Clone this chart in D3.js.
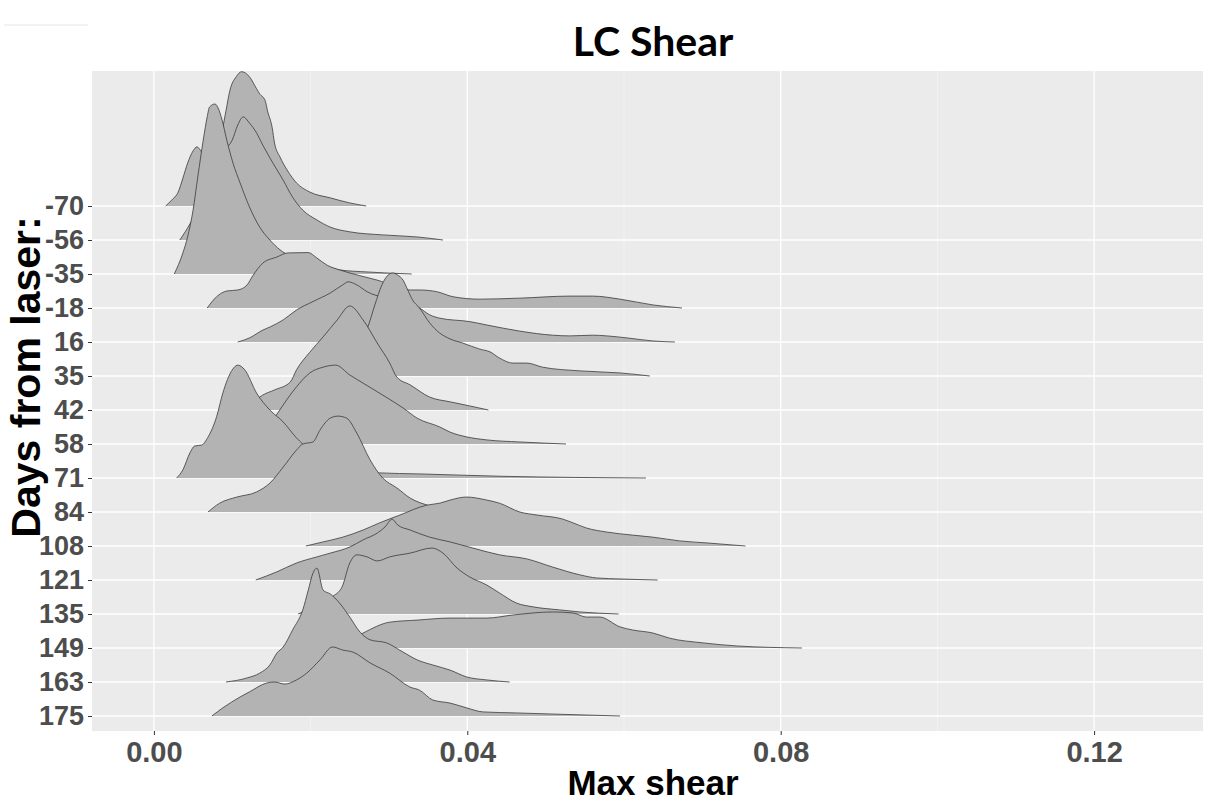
<!DOCTYPE html>
<html>
<head>
<meta charset="utf-8">
<script src="https://cdn.jsdelivr.net/npm/d3@7"></script>
<style>
  html, body { margin: 0; padding: 0; background: #ffffff; }
  svg { display: block; }
</style>
</head>
<body>
<svg id="chart" width="1215" height="805"></svg>
<script>
// Days from laser, top row first
const days = ["-70", "-56", "-35", "-18", "16", "35", "42", "58", "71", "84", "108", "121", "135", "149", "163", "175"];

// Ridge outlines per day: [max shear, scaled density height (1 = one row)]
const ridge_m70 = [[0.0015,0],[0.0023,0.18],[0.0031,0.41],[0.0037,0.82],[0.0043,1.26],[0.0050,1.62],[0.0055,1.74],[0.0060,1.62],[0.0069,1.30],[0.0078,1.45],[0.0087,2.2],[0.0092,2.8],[0.0097,3.4],[0.0105,3.8],[0.0112,3.95],[0.0122,3.8],[0.0131,3.45],[0.0135,3.3],[0.0142,3.1],[0.0145,2.8],[0.0151,2.3],[0.0154,1.85],[0.0161,1.44],[0.0170,1.06],[0.0182,0.68],[0.0199,0.41],[0.0225,0.24],[0.0250,0.09],[0.0271,0]];
const ridge_m56 = [[0.0033,0],[0.0040,0.24],[0.0052,0.74],[0.0065,1.47],[0.0078,2.06],[0.0091,2.65],[0.0100,2.94],[0.0107,3.38],[0.0114,3.62],[0.0122,3.44],[0.0131,3.15],[0.0139,2.79],[0.0152,2.26],[0.0165,1.76],[0.0177,1.26],[0.0190,0.88],[0.0208,0.59],[0.0225,0.38],[0.0250,0.24],[0.0292,0.15],[0.0336,0.09],[0.0369,0]];
const ridge_m35 = [[0.0026,0],[0.0037,0.62],[0.0043,1.09],[0.0050,1.88],[0.0056,2.85],[0.0063,3.94],[0.0068,4.62],[0.0071,4.91],[0.0078,5.0],[0.0082,4.88],[0.0087,4.53],[0.0093,3.94],[0.0101,3.26],[0.0110,2.68],[0.0122,1.97],[0.0135,1.38],[0.0148,1.0],[0.0161,0.71],[0.0174,0.53],[0.0190,0.41],[0.0216,0.26],[0.0237,0.12],[0.0272,0.06],[0.0329,0]];
const ridge_m18 = [[0.0068,0],[0.0080,0.33],[0.0093,0.5],[0.0107,0.53],[0.0119,0.68],[0.0126,0.94],[0.0139,1.32],[0.0157,1.5],[0.0171,1.62],[0.0197,1.63],[0.0208,1.47],[0.0221,1.26],[0.0237,1.12],[0.0263,0.95],[0.0285,0.82],[0.0327,0.53],[0.0339,0.53],[0.0361,0.48],[0.0382,0.33],[0.0416,0.26],[0.0467,0.29],[0.0531,0.35],[0.0560,0.35],[0.0595,0.26],[0.0637,0.09],[0.0674,0]];
const ridge_16 = [[0.0107,0],[0.0122,0.12],[0.0139,0.35],[0.0148,0.44],[0.0165,0.65],[0.0182,0.94],[0.0203,1.19],[0.0225,1.44],[0.0241,1.68],[0.0248,1.77],[0.0259,1.68],[0.0272,1.48],[0.0295,1.3],[0.0320,1.2],[0.0339,1.0],[0.0352,0.8],[0.0365,0.7],[0.0403,0.6],[0.0425,0.5],[0.0467,0.32],[0.0509,0.2],[0.0531,0.18],[0.0560,0.2],[0.0578,0.18],[0.0604,0.12],[0.0637,0.03],[0.0665,0]];
const ridge_35 = [[0.0186,0],[0.0225,0.32],[0.0250,0.76],[0.0273,1.44],[0.0282,2.09],[0.0291,2.68],[0.0299,2.97],[0.0305,3.03],[0.0311,2.97],[0.0318,2.82],[0.0324,2.53],[0.0330,2.24],[0.0339,2.0],[0.0352,1.56],[0.0365,1.26],[0.0378,1.09],[0.0394,0.97],[0.0416,0.79],[0.0429,0.71],[0.0441,0.53],[0.0458,0.38],[0.0476,0.38],[0.0496,0.26],[0.0544,0.15],[0.0595,0.09],[0.0633,0]];
const ridge_42 = [[0.0116,0],[0.0139,0.44],[0.0154,0.59],[0.0174,0.82],[0.0182,1.18],[0.0199,1.7],[0.0216,2.15],[0.0234,2.65],[0.0250,3.06],[0.0267,2.65],[0.0285,1.97],[0.0301,1.38],[0.0310,0.97],[0.0327,0.74],[0.0352,0.38],[0.0378,0.24],[0.0403,0.12],[0.0427,0]];
const ridge_58 = [[0.0122,0],[0.0142,0.35],[0.0158,0.91],[0.0182,1.68],[0.0199,2.09],[0.0216,2.26],[0.0232,2.32],[0.0250,2.03],[0.0267,1.79],[0.0292,1.44],[0.0318,1.06],[0.0336,0.76],[0.0365,0.5],[0.0378,0.35],[0.0399,0.21],[0.0425,0.12],[0.0467,0.06],[0.0526,0]];
const ridge_71 = [[0.0029,0],[0.0037,0.24],[0.0046,0.74],[0.0052,0.94],[0.0061,0.97],[0.0069,1.2],[0.0080,1.8],[0.0088,2.5],[0.0100,3.18],[0.0107,3.32],[0.0116,3.18],[0.0131,2.5],[0.0148,2.0],[0.0165,1.65],[0.0182,1.18],[0.0190,1.0],[0.0212,0.68],[0.0237,0.38],[0.0263,0.24],[0.0288,0.15],[0.0339,0.12],[0.0445,0.05],[0.0628,0]];
const ridge_84 = [[0.0069,0],[0.0084,0.26],[0.0106,0.44],[0.0131,0.59],[0.0148,0.85],[0.0165,1.32],[0.0182,1.82],[0.0190,2.0],[0.0203,2.06],[0.0212,2.41],[0.0225,2.76],[0.0235,2.82],[0.0246,2.76],[0.0259,2.32],[0.0276,1.53],[0.0292,1.0],[0.0310,0.71],[0.0327,0.41],[0.0352,0.18],[0.0371,0.06],[0.0390,0]];
const ridge_108 = [[0.0194,0],[0.0216,0.12],[0.0241,0.26],[0.0267,0.47],[0.0288,0.68],[0.0314,0.91],[0.0348,1.2],[0.0365,1.26],[0.0378,1.35],[0.0399,1.44],[0.0425,1.35],[0.0441,1.26],[0.0467,1.0],[0.0489,0.91],[0.0522,0.79],[0.0535,0.68],[0.0552,0.53],[0.0578,0.41],[0.0611,0.32],[0.0637,0.26],[0.0671,0.15],[0.0706,0.09],[0.0755,0]];
const ridge_121 = [[0.0130,0],[0.0157,0.24],[0.0182,0.5],[0.0208,0.68],[0.0225,0.79],[0.0250,0.97],[0.0267,1.18],[0.0285,1.38],[0.0295,1.56],[0.0304,1.79],[0.0311,1.62],[0.0327,1.47],[0.0352,1.26],[0.0378,1.12],[0.0407,0.94],[0.0441,0.74],[0.0476,0.62],[0.0509,0.38],[0.0544,0.15],[0.0565,0.06],[0.0595,0.03],[0.0643,0]];
const ridge_135 = [[0.0184,0],[0.0199,0.15],[0.0214,0.3],[0.0227,0.5],[0.0240,0.79],[0.0250,1.5],[0.0259,1.74],[0.0272,1.68],[0.0285,1.56],[0.0301,1.68],[0.0327,1.79],[0.0355,1.94],[0.0369,1.79],[0.0387,1.35],[0.0403,1.09],[0.0425,0.85],[0.0441,0.62],[0.0463,0.32],[0.0484,0.21],[0.0518,0.12],[0.0544,0.06],[0.0593,0]];
const ridge_149 = [[0.0225,0],[0.0244,0.15],[0.0267,0.44],[0.0301,0.76],[0.0336,0.82],[0.0378,0.88],[0.0425,0.88],[0.0458,0.97],[0.0509,1.06],[0.0535,1.03],[0.0552,0.91],[0.0569,0.91],[0.0595,0.62],[0.0611,0.53],[0.0637,0.44],[0.0658,0.29],[0.0701,0.15],[0.0744,0.06],[0.0827,0]];
const ridge_163 = [[0.0092,0],[0.0119,0.12],[0.0135,0.26],[0.0148,0.5],[0.0157,0.85],[0.0165,1.03],[0.0177,1.53],[0.0190,2.12],[0.0197,2.7],[0.0203,3.2],[0.0208,3.35],[0.0216,2.7],[0.0225,2.59],[0.0237,2.32],[0.0250,1.91],[0.0263,1.47],[0.0276,1.24],[0.0297,1.15],[0.0318,0.88],[0.0336,0.65],[0.0356,0.5],[0.0378,0.35],[0.0399,0.15],[0.0425,0.06],[0.0454,0]];
const ridge_175 = [[0.0074,0],[0.0088,0.24],[0.0110,0.56],[0.0122,0.71],[0.0144,0.97],[0.0154,1.0],[0.0167,0.94],[0.0182,1.06],[0.0195,1.26],[0.0212,1.65],[0.0228,2.03],[0.0241,1.94],[0.0254,1.88],[0.0276,1.56],[0.0301,1.26],[0.0327,0.85],[0.0339,0.76],[0.0356,0.47],[0.0378,0.38],[0.0399,0.24],[0.0420,0.12],[0.0463,0.09],[0.0505,0.06],[0.0595,0]];

const ridgeList = [ridge_m70, ridge_m56, ridge_m35, ridge_m18, ridge_16, ridge_35, ridge_42, ridge_58,
                   ridge_71, ridge_84, ridge_108, ridge_121, ridge_135, ridge_149, ridge_163, ridge_175];

const xMajorTicks = [0, 0.04, 0.08, 0.12];
const xMinorTicks = [0.02, 0.06, 0.10];

const titleText = "LC Shear";
const xTitleText = "Max shear";
const yTitleText = "Days from laser:";

// ---- layout ----
const panel = { left: 92, right: 1203, top: 71, bottom: 731 };
const svg = d3.select("#chart");

const x = d3.scaleLinear().domain([-0.0079, 0.1339]).range([panel.left, panel.right]);
const y = d3.scalePoint().domain(days).range([panel.top + 135, panel.bottom - 15]);
const h = d3.scaleLinear().domain([0, 1]).range([0, y.step()]);

// panel background
svg.append("rect")
  .attr("x", panel.left).attr("y", panel.top)
  .attr("width", panel.right - panel.left).attr("height", panel.bottom - panel.top)
  .attr("fill", "#ebebeb");

// grid
const grid = svg.append("g");
grid.selectAll("line.minor").data(xMinorTicks).join("line")
  .attr("x1", d => x(d)).attr("x2", d => x(d))
  .attr("y1", panel.top).attr("y2", panel.bottom)
  .attr("stroke", "#f7f7f7").attr("stroke-width", 0.7);
grid.selectAll("line.majx").data(xMajorTicks).join("line")
  .attr("x1", d => x(d)).attr("x2", d => x(d))
  .attr("y1", panel.top).attr("y2", panel.bottom)
  .attr("stroke", "#ffffff").attr("stroke-width", 1.3);
grid.selectAll("line.majy").data(days).join("line")
  .attr("x1", panel.left).attr("x2", panel.right)
  .attr("y1", d => y(d)).attr("y2", d => y(d))
  .attr("stroke", "#ffffff").attr("stroke-width", 1.3);

// ridges, top row first so lower rows overlap it
const ridges = svg.append("g");
days.forEach((day, i) => {
  const base = y(day);
  const pts = ridgeList[i];
  const area = d3.area()
    .x(d => x(d[0])).y0(base).y1(d => base - h(d[1]))
    .curve(d3.curveMonotoneX);
  const line = d3.line()
    .x(d => x(d[0])).y(d => base - h(d[1]))
    .curve(d3.curveMonotoneX);
  ridges.append("path").attr("d", area(pts))
    .attr("fill", "#b3b3b3").attr("stroke", "none");
  ridges.append("path").attr("d", line(pts))
    .attr("fill", "none").attr("stroke", "#3a3a3a").attr("stroke-width", 0.8);
});

// axes
const tickFont = "'Liberation Sans', Arial, sans-serif";
const xAxis = d3.axisBottom(x).tickValues(xMajorTicks).tickFormat(d3.format(".2f")).tickSize(4).tickPadding(6);
const gx = svg.append("g").attr("transform", `translate(0,${panel.bottom})`).call(xAxis);
gx.select(".domain").remove();
gx.selectAll(".tick line").attr("stroke", "#333333").attr("stroke-width", 1);
gx.selectAll(".tick text")
  .attr("fill", "#4d4d4d")
  .style("font-family", tickFont)
  .style("font-weight", "bold").style("font-size", "29px");

const yAxis = d3.axisLeft(y).tickSize(4).tickPadding(4);
const gy = svg.append("g").attr("transform", `translate(${panel.left},0)`).call(yAxis);
gy.select(".domain").remove();
gy.selectAll(".tick line").attr("stroke", "#333333").attr("stroke-width", 1);
gy.selectAll(".tick text")
  .attr("fill", "#4d4d4d")
  .style("font-family", tickFont)
  .style("font-weight", "bold").style("font-size", "27px");

// titles
svg.append("text")
  .attr("x", 653).attr("y", 56)
  .attr("text-anchor", "middle")
  .style("font-family", "Lato, 'Open Sans', sans-serif")
  .style("font-weight", "bold").style("font-size", "41px")
  .attr("fill", "#000000")
  .text(titleText);

svg.append("text")
  .attr("x", 653).attr("y", 795)
  .attr("text-anchor", "middle")
  .style("font-family", tickFont)
  .style("font-weight", "bold").style("font-size", "35px")
  .attr("fill", "#000000")
  .text(xTitleText);

svg.append("text")
  .attr("transform", "translate(40,377) rotate(-90)")
  .attr("text-anchor", "middle")
  .style("font-family", tickFont)
  .style("font-weight", "bold").style("font-size", "41px")
  .attr("fill", "#000000")
  .text(yTitleText);

// faint rule at the top left corner
svg.append("line")
  .attr("x1", 4).attr("x2", 88).attr("y1", 25).attr("y2", 25)
  .attr("stroke", "#e6e6e6").attr("stroke-width", 1);
</script>
</body>
</html>
